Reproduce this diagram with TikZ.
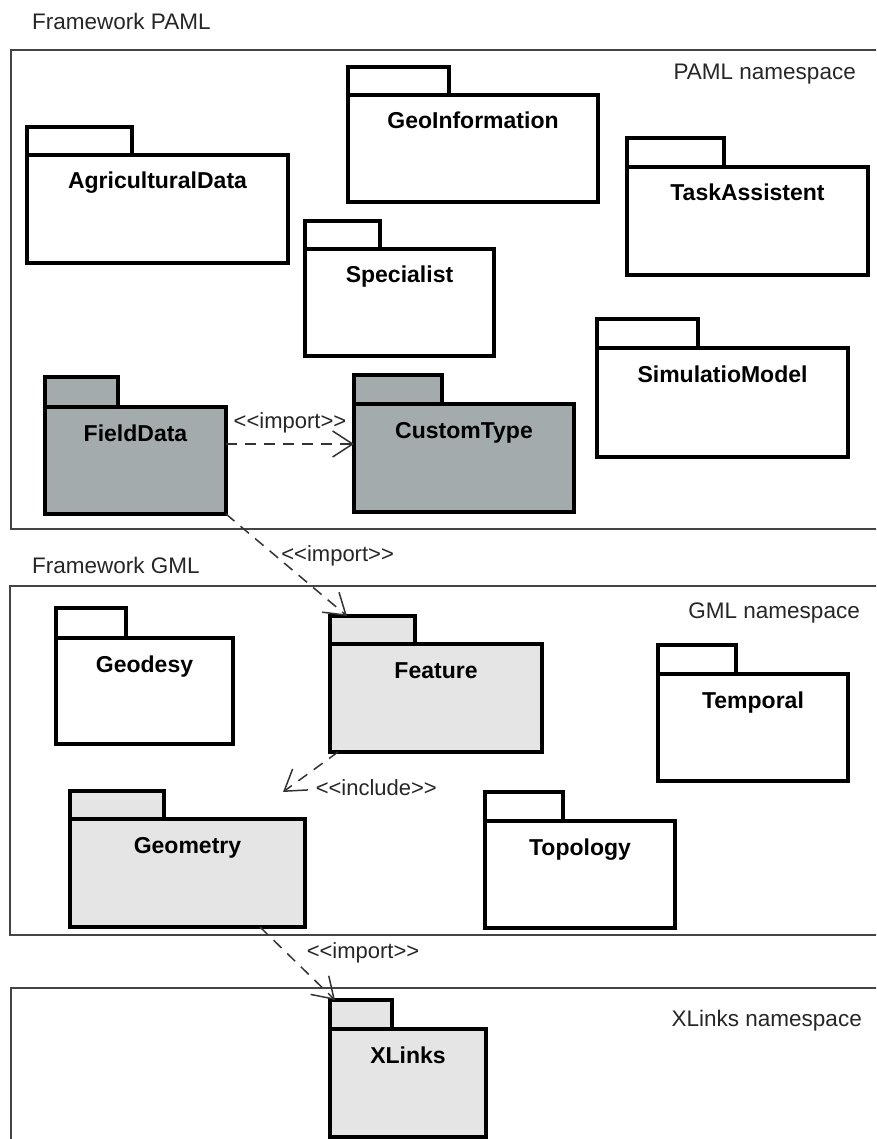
\documentclass[tikz,border=0pt]{standalone}
\usepackage{fontspec}
\setmainfont{Liberation Sans}
\usetikzlibrary{arrows.meta, positioning}
\definecolor{pkgdark}{HTML}{A4ABAD}
\definecolor{pkglight}{HTML}{E5E5E5}
\definecolor{framegray}{HTML}{444444}

\begin{document}
\begin{tikzpicture}[x=1pt, y=-1pt,
  frame/.style={draw=framegray, line width=1.4pt},
  pkgtab/.style={draw=black, line width=3.2pt, inner sep=0pt, outer sep=0pt, anchor=south west},
  pkgbody/.style={draw=black, line width=3.2pt, inner sep=0pt, outer sep=0pt, anchor=north west},
  pkglabel/.style={font=\fontsize{23}{26}\selectfont\bfseries, anchor=base, inner sep=0pt},
  framelabel/.style={font=\fontsize{22.5}{26}\selectfont, text=black!85, inner sep=0pt},
  stereo/.style={font=\fontsize{22}{26}\selectfont, text=black!85, inner sep=0pt},
  dep/.style={draw=black!80, line width=1.5pt, dash pattern=on 11pt off 8pt,
    -{Straight Barb[length=20pt, width=26pt, line width=1.5pt]}}
]
\useasboundingbox (0,0) rectangle (876,1139);
\clip (0,0) rectangle (876,1139);
\fill[white] (0,0) rectangle (876,1139);

% PAML frame
\draw[frame] (11,50) rectangle (900,529);
\node[framelabel, anchor=base west] (paml-title) at (32,30) {Framework PAML};
\node[framelabel, anchor=base east] (paml-ns) at (856,80) {PAML namespace};

% GML frame
\draw[frame] (10,586) rectangle (900,935);
\node[framelabel, anchor=base west] (gml-title) at (32,573) {Framework GML};
\node[framelabel, anchor=base east] (gml-ns) at (860,618) {GML namespace};

% XLinks frame
\draw[frame] (900,988) -- (11,988) -- (11,1150);
\node[framelabel, anchor=base east] (xl-ns) at (862,1026) {XLinks namespace};

% packages: name/left/right/tab right/tab top/body top/body bottom/fill/label
\foreach \n/\xa/\xb/\xt/\yt/\ya/\yb/\col/\txt in {
  agri/27/288/132/127/155/263/white/AgriculturalData,
  geoinfo/348/598/449/67/95/202/white/GeoInformation,
  task/627/868/724/138/167/275/white/TaskAssistent,
  spec/305/494/380/221/249/356/white/Specialist,
  simul/597/848/698/319/348/457/white/SimulatioModel,
  field/45/226/118/377/407/514/pkgdark/FieldData,
  custom/354/574/442/375/404/512/pkgdark/CustomType,
  geodesy/56/233/126/608/638/744/white/Geodesy,
  feature/330/542/415/616/644/752/pkglight/Feature,
  temporal/658/848/736/645/674/781/white/Temporal,
  geometry/70/305/164/791/819/927/pkglight/Geometry,
  topology/485/675/563/792/821/928/white/Topology,
  xlinks/330/486/392/1000/1029/1137/pkglight/XLinks} {
  \pgfmathsetmacro\w{\xb-\xa}
  \pgfmathsetmacro\h{\yb-\ya}
  \pgfmathsetmacro\tw{\xt-\xa}
  \pgfmathsetmacro\th{\ya-\yt}
  \node[pkgtab, fill=\col, minimum width=\tw pt, minimum height=\th pt] (\n-tab) at (\xa,\ya) {};
  \node[pkgbody, fill=\col, minimum width=\w pt, minimum height=\h pt] (\n) at (\xa,\ya) {};
  \node[pkglabel] (\n-label) at ([yshift=-34pt]\n.north) {\txt};
}

% dependencies
\draw[dep] (field.east |- 0,444) -- node[stereo, above=10pt] (imp-custom) {<{}<import>{}>} (custom.west |- 0,444);
\draw[dep] (field.south east) -- node[stereo, pos=0.41, right=5pt] (imp-feature) {<{}<import>{}>} ([xshift=17pt]feature-tab.north west);
\coordinate (inc-end) at (283,792);
\draw[dep] ([xshift=8pt]feature.south west) -- (inc-end) node[stereo, right=32pt, yshift=4pt] (inc-label) {<{}<include>{}>};
\draw[dep] ([xshift=-45pt]geometry.south east) -- node[stereo, pos=0.36, right=19pt] (imp-xlinks) {<{}<import>{}>} ([xshift=5pt]xlinks-tab.north west);
\end{tikzpicture}
\end{document}
